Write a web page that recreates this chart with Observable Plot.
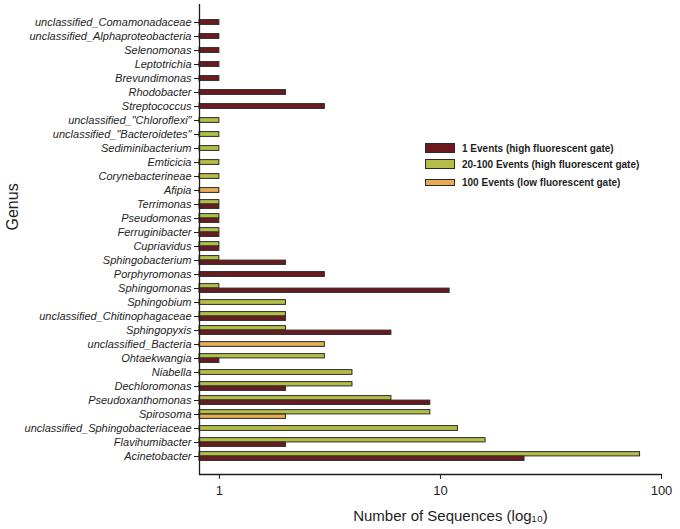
<!DOCTYPE html>
<html><head><meta charset="utf-8">
<script src="https://cdn.jsdelivr.net/npm/d3@7"></script>
<script src="https://cdn.jsdelivr.net/npm/@observablehq/plot@0.6"></script>
<style>
body{margin:0;background:#fff;font-family:"Liberation Sans",Arial,sans-serif;}
#wrap{position:relative;width:680px;height:529px;overflow:hidden;}
#legend{position:absolute;left:0;top:0;font-weight:bold;font-size:10px;color:#1e1e1e;}
.row{position:absolute;display:flex;align-items:center;white-space:nowrap;height:12px;}
.sw{width:30px;border:1px solid #2a2a2a;box-sizing:border-box;margin-right:7px;}
</style></head><body>
<div id="wrap"><div id="chart"></div><div id="legend"></div></div>
<script>
const genera = [
  "unclassified_Comamonadaceae","unclassified_Alphaproteobacteria","Selenomonas","Leptotrichia",
  "Brevundimonas","Rhodobacter","Streptococcus","unclassified_\"Chloroflexi\"",
  "unclassified_\"Bacteroidetes\"","Sediminibacterium","Emticicia","Corynebacterineae",
  "Afipia","Terrimonas","Pseudomonas","Ferruginibacter","Cupriavidus","Sphingobacterium",
  "Porphyromonas","Sphingomonas","Sphingobium","unclassified_Chitinophagaceae","Sphingopyxis",
  "unclassified_Bacteria","Ohtaekwangia","Niabella","Dechloromonas","Pseudoxanthomonas",
  "Spirosoma","unclassified_Sphingobacteriaceae","Flavihumibacter","Acinetobacter"
];
// 1 Events (high fluorescent gate)
const events1High = [1,1,1,1,1,2,3,null,null,null,null,null,null,1,1,1,1,2,3,11,null,2,6,null,1,null,2,9,null,null,2,24];
// 20-100 Events (high fluorescent gate)
const events20to100High = [null,null,null,null,null,null,null,1,1,1,1,1,null,1,1,1,1,1,null,1,2,2,2,null,3,4,4,6,9,12,16,80];
// 100 Events (low fluorescent gate)
const events100Low = [null,null,null,null,null,null,null,null,null,null,null,null,1,null,null,null,null,null,null,null,null,null,null,3,null,null,null,null,2,null,null,null];

const seriesNames = ["1 Events (high fluorescent gate)","20-100 Events (high fluorescent gate)","100 Events (low fluorescent gate)"];
const seriesColors = ["#6c1a1f","#b4be47","#e7ad56"];
const xTicks = [1, 10, 100];
const xDomain = [0.813, 100];

// stacking order inside a genus: 20-100 on top, then 100 low, then 1 events
const seriesArrays = [events1High, events20to100High, events100Low];
const order = [1, 2, 0];
const rows = [];
genera.forEach((g, i) => {
  const present = order.filter(s => seriesArrays[s][i] != null);
  present.forEach((s, k) => {
    rows.push({
      genus: g, series: seriesNames[s], value: seriesArrays[s][i],
      pos: present.length === 1 ? "single" : (k === 0 ? "top" : "bottom")
    });
  });
});

const common = {y: "genus", x1: () => xDomain[0], x2: "value", fill: "series", stroke: "#2a2a2a", strokeWidth: 1};

const chart = Plot.plot({
  width: 680, height: 529,
  marginTop: 4, marginBottom: 55, marginLeft: 199, marginRight: 19,
  style: {fontFamily: "'Liberation Sans', Arial, sans-serif", color: "#1e1e1e", background: "#fff"},
  x: {type: "log", domain: xDomain},
  y: {domain: genera, padding: 0, insetTop: 7.4, insetBottom: 7.9},
  color: {domain: seriesNames, range: seriesColors},
  marks: [
    Plot.barX(rows.filter(d => d.pos === "single"), {...common, insetTop: 4.6, insetBottom: 4.6}),
    Plot.barX(rows.filter(d => d.pos === "top"), {...common, insetTop: 2.6, insetBottom: 7.1}),
    Plot.barX(rows.filter(d => d.pos === "bottom"), {...common, insetTop: 7.1, insetBottom: 2.6}),
    Plot.ruleX([xDomain[0]], {stroke: "#1e1e1e", strokeWidth: 1.3}),
    Plot.frame({anchor: "bottom", stroke: "#1e1e1e", strokeWidth: 1.3}),
    Plot.axisY({tickSize: 5, tickPadding: 3, fontSize: 11, fontStyle: "italic", label: null}),
    Plot.axisX({ticks: xTicks, tickSize: 5, tickPadding: 6, fontSize: 13, tickFormat: d => String(d), label: null}),
    Plot.text(["Number of Sequences (log\u2081\u2080)"], {frameAnchor: "bottom", dy: 46, dx: 20, fontSize: 15, fill: "#1e1e1e"}),
    Plot.text(["Genus"], {frameAnchor: "left", rotate: -90, dx: -187, dy: -9, fontSize: 16, fill: "#1e1e1e"})
  ]
});
document.getElementById("chart").appendChild(chart);

// legend (inside the plot area, upper right)
const legendRows = [
  {name: seriesNames[0], color: seriesColors[0], top: 142, h: 10},
  {name: seriesNames[1], color: seriesColors[1], top: 158, h: 10},
  {name: seriesNames[2], color: seriesColors[2], top: 176.5, h: 7}
];
const leg = document.getElementById("legend");
legendRows.forEach(r => {
  const row = document.createElement("div");
  row.className = "row";
  row.style.left = "425px";
  row.style.top = r.top + "px";
  const sw = document.createElement("div");
  sw.className = "sw";
  sw.style.height = r.h + "px";
  sw.style.background = r.color;
  const t = document.createElement("span");
  t.textContent = r.name;
  row.appendChild(sw); row.appendChild(t);
  leg.appendChild(row);
});
</script>
</body></html>
